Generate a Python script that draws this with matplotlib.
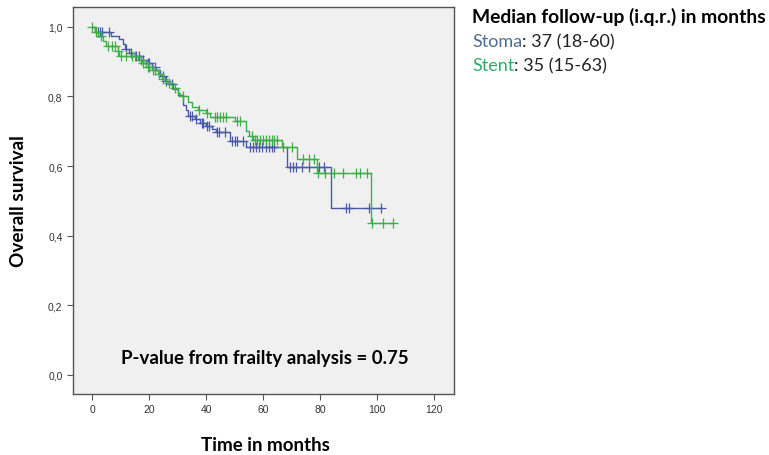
#!/usr/bin/env python3

"""Kaplan-Meier curves, stoma vs stent."""

import numpy as np
import matplotlib
matplotlib.use("Agg")
import matplotlib.pyplot as plt
from matplotlib.ticker import FuncFormatter

# step times (months) and survival after each step
stoma_times = [0, 1, 6.5, 9.5, 11, 11.5, 13, 15, 17, 19, 21, 22.5, 24, 25.5,
               27, 28.5, 30, 31.8, 32.8, 33.8, 36, 38, 40, 42, 43.5, 48.5,
               54, 68.5, 84]
stoma_surv = [1.0, 0.985, 0.975, 0.965, 0.95, 0.935, 0.925, 0.915, 0.905,
              0.895, 0.885, 0.875, 0.86, 0.845, 0.835, 0.82, 0.805, 0.775,
              0.76, 0.745, 0.735, 0.725, 0.715, 0.705, 0.699, 0.672, 0.656,
              0.598, 0.478]
stoma_end = 101.8
stoma_cens = [2, 2.8, 3.5, 6, 12, 13.5, 15.5, 16.5, 18, 19.5, 20, 22, 25,
              26, 28, 34.5, 35, 36.5, 38.5, 39, 40.5, 41, 44, 44.5, 46.5, 49,
              50, 51, 53, 55.5, 56.5, 57.5, 58.5, 59.5, 61, 62, 63, 64, 69.5,
              70.5, 71.5, 73.5, 76, 79.5, 81.5, 89, 90, 97.2, 101.3]

stent_times = [0, 1, 2, 4, 5, 9, 9.5, 16, 17.5, 19, 21, 23, 24.5, 26, 28,
               30, 31, 33.5, 35, 37, 40, 41.5, 50, 54, 55, 56.5, 66.5, 72,
               79, 98]
stent_surv = [1.0, 0.985, 0.975, 0.96, 0.945, 0.93, 0.915, 0.905, 0.895,
              0.885, 0.875, 0.865, 0.85, 0.84, 0.825, 0.81, 0.80, 0.785, 0.77,
              0.76, 0.752, 0.742, 0.73, 0.70, 0.685, 0.675, 0.655, 0.62,
              0.58, 0.435]
stent_end = 105.5
stent_cens = [0, 1.5, 3, 5.5, 7, 8, 9, 10, 12, 14, 15, 17, 18, 19.5, 20,
              21.5, 22, 23.5, 25, 27, 29, 32, 37.5, 40.5, 43, 44, 45, 46, 47,
              51, 52, 56, 57, 58, 59, 60, 61, 62, 63, 64, 65, 67, 70, 74, 76,
              78, 79.4, 81.8, 85, 88, 92.6, 94, 96.5, 98.3, 102, 105.5]

BLUE = "#4a5aa8"
GREEN = "#3fae49"

fig = plt.figure(figsize=(7.69, 4.56), dpi=100)
ax = fig.add_axes([0.0949, 0.1338, 0.4955, 0.8487])
ax.set_facecolor("#f0f0f0")


def draw_km(times, surv, end, cens, color):
    t = np.append(times, end)
    s = np.append(surv, surv[-1])
    ax.step(t, s, where="post", color=color, lw=1.0)
    idx = np.searchsorted(times, cens, side="right") - 1
    ax.plot(cens, np.asarray(surv)[idx], ls="none", marker="+",
            ms=7, mew=0.9, color=color)


draw_km(stoma_times, stoma_surv, stoma_end, stoma_cens, BLUE)
draw_km(stent_times, stent_surv, stent_end, stent_cens, GREEN)

ax.set_xlim(-6.7, 127)
ax.set_ylim(-0.055, 1.057)
ax.set_xticks(range(0, 121, 20))
ax.set_yticks(np.arange(0, 1.01, 0.2))
ax.yaxis.set_major_formatter(FuncFormatter(lambda v, p: ("%.1f" % v).replace(".", ",")))
ax.tick_params(direction="out", length=4, width=0.8, color="#555555",
               labelsize=7.5, labelcolor="#333333")
for lab in ax.get_xticklabels() + ax.get_yticklabels():
    lab.set_family("Liberation Sans")
for sp in ax.spines.values():
    sp.set_color("#555555")
    sp.set_linewidth(1.0)

font = "Lato"
fig.text(0.024, 0.558, "Overall survival", rotation=90, ha="center",
         va="center", fontsize=13.7, fontweight="bold", family=font)
fig.text(0.345, 0.024, "Time in months", ha="center", va="center",
         fontsize=13.5, fontweight="bold", family=font)
ax.text(60.5, 0.05, "P-value from frailty analysis = 0.75", ha="center",
        va="center", fontsize=13.4, fontweight="bold", family=font)

# legend-like notes on the right
fig.text(0.614, 0.962, "Median follow-up (i.q.r.) in months", ha="left",
         va="center", fontsize=13.9, fontweight="bold", family=font)
renderer = fig.canvas.get_renderer()
rows = [("Stoma", ": 37 (18-60)", "#4f6d8f", 0.907),
        ("Stent", ": 35 (15-63)", "#2fa86a", 0.855)]
for name, rest, col, y in rows:
    t = fig.text(0.614, y, name, ha="left", va="center", fontsize=13,
                 color=col, family=font)
    bb = t.get_window_extent(renderer)
    x2 = bb.x1 / fig.bbox.width
    fig.text(x2, y, rest, ha="left", va="center", fontsize=13,
             color="#222222", family=font)

fig.savefig("out.png", dpi=100)
